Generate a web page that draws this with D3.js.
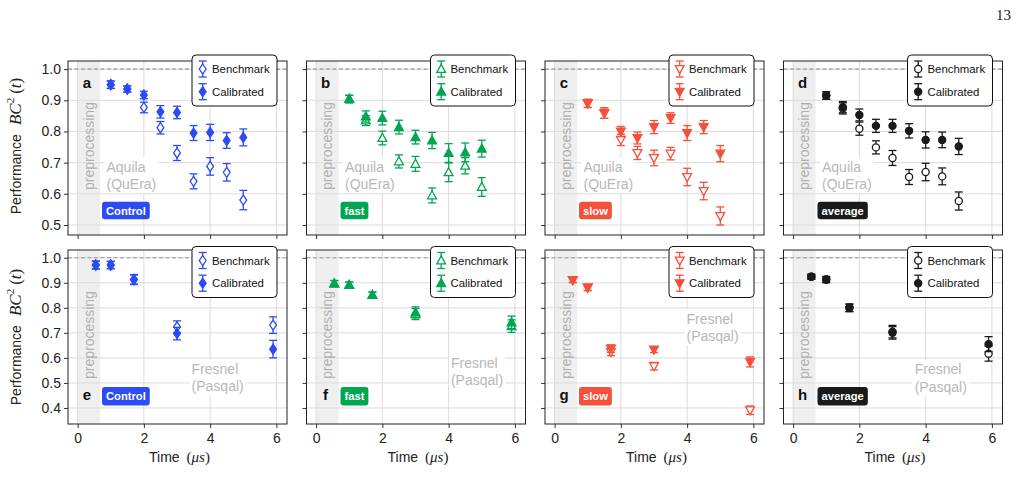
<!DOCTYPE html>
<html>
<head>
<meta charset="utf-8">
<script src="https://cdn.jsdelivr.net/npm/d3@7"></script>
<style>
  body { margin: 0; background: #fff; }
  svg { display: block; }
</style>
</head>
<body>
<svg id="chart" width="1018" height="501"></svg>
<script>
// sample times (microseconds)
var timesAquila = [1.0, 1.5, 2.0, 2.5, 3.0, 3.5, 4.0, 4.5, 5.0];
var timesFresnel = [0.55, 1.0, 1.7, 3.0, 5.9];

// Aquila (QuEra) -- top row
var aquilaControlBench    = [0.950, 0.936, 0.877, 0.812, 0.731, 0.640, 0.688, 0.669, 0.580];
var aquilaControlBenchErr = [0.012, 0.010, 0.017, 0.020, 0.024, 0.024, 0.028, 0.028, 0.031];
var aquilaControlCal      = [0.950, 0.936, 0.917, 0.863, 0.861, 0.795, 0.797, 0.771, 0.781];
var aquilaControlCalErr   = [0.012, 0.010, 0.012, 0.020, 0.020, 0.024, 0.026, 0.025, 0.027];

var aquilaFastBench    = [0.904, 0.835, 0.779, 0.704, 0.696, 0.595, 0.669, 0.690, 0.622];
var aquilaFastBenchErr = [0.012, 0.016, 0.022, 0.021, 0.024, 0.024, 0.030, 0.026, 0.030];
var aquilaFastCal      = [0.904, 0.848, 0.843, 0.814, 0.782, 0.771, 0.731, 0.733, 0.745];
var aquilaFastCalErr   = [0.012, 0.018, 0.022, 0.022, 0.022, 0.026, 0.030, 0.030, 0.027];

var aquilaSlowBench    = [0.890, 0.859, 0.773, 0.731, 0.715, 0.729, 0.654, 0.609, 0.529];
var aquilaSlowBenchErr = [0.013, 0.017, 0.018, 0.021, 0.025, 0.020, 0.028, 0.028, 0.029];
var aquilaSlowCal      = [0.890, 0.859, 0.800, 0.779, 0.814, 0.843, 0.795, 0.814, 0.729];
var aquilaSlowCalErr   = [0.013, 0.017, 0.016, 0.019, 0.021, 0.017, 0.024, 0.021, 0.026];

var aquilaAvgBench    = [0.915, 0.874, 0.809, 0.749, 0.715, 0.654, 0.670, 0.656, 0.577];
var aquilaAvgBenchErr = [0.012, 0.018, 0.021, 0.021, 0.024, 0.024, 0.028, 0.027, 0.029];
var aquilaAvgCal      = [0.915, 0.878, 0.853, 0.818, 0.818, 0.802, 0.773, 0.773, 0.752];
var aquilaAvgCalErr   = [0.012, 0.018, 0.019, 0.021, 0.021, 0.023, 0.026, 0.025, 0.026];

// Fresnel (Pasqal) -- bottom row
var fresnelControlBench    = [0.971, 0.971, 0.913, 0.724, 0.731];
var fresnelControlBenchErr = [0.015, 0.014, 0.018, 0.024, 0.033];
var fresnelControlCal      = [0.971, 0.971, 0.913, 0.697, 0.635];
var fresnelControlCalErr   = [0.016, 0.015, 0.020, 0.025, 0.035];

var fresnelFastBench    = [0.897, 0.891, 0.851, 0.775, 0.727];
var fresnelFastBenchErr = [0.012, 0.012, 0.012, 0.022, 0.025];
var fresnelFastCal      = [0.897, 0.891, 0.851, 0.782, 0.742];
var fresnelFastCalErr   = [0.012, 0.012, 0.012, 0.022, 0.025];

var fresnelSlowBench    = [0.911, 0.881, 0.624, 0.567, 0.391];
var fresnelSlowBenchErr = [0.010, 0.012, 0.015, 0.015, 0.017];
var fresnelSlowCal      = [0.911, 0.881, 0.637, 0.633, 0.584];
var fresnelSlowCalErr   = [0.010, 0.012, 0.015, 0.012, 0.020];

var fresnelAvgBench    = [0.924, 0.913, 0.800, 0.705, 0.617];
var fresnelAvgBenchErr = [0.010, 0.012, 0.015, 0.025, 0.030];
var fresnelAvgCal      = [0.924, 0.913, 0.800, 0.700, 0.655];
var fresnelAvgCalErr   = [0.010, 0.012, 0.015, 0.025, 0.030];

var xTicks = [0, 2, 4, 6];
var yTicksTop = [0.5, 0.6, 0.7, 0.8, 0.9, 1.0];
var yTicksBottom = [0.4, 0.5, 0.6, 0.7, 0.8, 0.9, 1.0];
var seriesNames = ['Benchmark', 'Calibrated'];

var protocols = {
  Control: { label: 'Control', color: '#2b4cf5', shape: 'diamond' },
  fast:    { label: 'fast',    color: '#00a651', shape: 'up' },
  slow:    { label: 'slow',    color: '#f5503a', shape: 'down' },
  average: { label: 'average', color: '#1a1a1a', shape: 'circle' }
};

// ---- layout ----
var font = 'Liberation Sans, Arial, Helvetica, sans-serif';
var serif = 'Liberation Serif, DejaVu Serif, serif';
var colLeft = [68, 306.5, 545, 783.5];
var panelW = 219;
var rowTop = [61, 250];
var panelH = 174;

var x = d3.scaleLinear().domain([-0.29, 6.32]).range([0, panelW]);
var yScales = [
  d3.scaleLinear().domain([0.468, 1.026]).range([panelH, 0]),
  d3.scaleLinear().domain([0.336, 1.031]).range([panelH, 0])
];

var rowStyle = [
  { device: ['Aquila', '(QuEra)'], yTicks: yTicksTop, legendDy: -6, labelAt: 'top', badgeTop: -33.3, badgeH: 17.6 },
  { device: ['Fresnel', '(Pasqal)'], yTicks: yTicksBottom, legendDy: -3.5, labelAt: 'bottom', badgeTop: -37, badgeH: 18.4 }
];

var panels = [
  { id: 'a', row: 0, col: 0, proto: 'Control', times: timesAquila, bench: aquilaControlBench, benchErr: aquilaControlBenchErr, cal: aquilaControlCal, calErr: aquilaControlCalErr },
  { id: 'b', row: 0, col: 1, proto: 'fast', times: timesAquila, bench: aquilaFastBench, benchErr: aquilaFastBenchErr, cal: aquilaFastCal, calErr: aquilaFastCalErr },
  { id: 'c', row: 0, col: 2, proto: 'slow', times: timesAquila, bench: aquilaSlowBench, benchErr: aquilaSlowBenchErr, cal: aquilaSlowCal, calErr: aquilaSlowCalErr },
  { id: 'd', row: 0, col: 3, proto: 'average', times: timesAquila, bench: aquilaAvgBench, benchErr: aquilaAvgBenchErr, cal: aquilaAvgCal, calErr: aquilaAvgCalErr },
  { id: 'e', row: 1, col: 0, proto: 'Control', times: timesFresnel, bench: fresnelControlBench, benchErr: fresnelControlBenchErr, cal: fresnelControlCal, calErr: fresnelControlCalErr, devAt: [3.44, 0.537] },
  { id: 'f', row: 1, col: 1, proto: 'fast', times: timesFresnel, bench: fresnelFastBench, benchErr: fresnelFastBenchErr, cal: fresnelFastCal, calErr: fresnelFastCalErr, devAt: [4.07, 0.561] },
  { id: 'g', row: 1, col: 2, proto: 'slow', times: timesFresnel, bench: fresnelSlowBench, benchErr: fresnelSlowBenchErr, cal: fresnelSlowCal, calErr: fresnelSlowCalErr, devAt: [3.98, 0.737] },
  { id: 'h', row: 1, col: 3, proto: 'average', times: timesFresnel, bench: fresnelAvgBench, benchErr: fresnelAvgBenchErr, cal: fresnelAvgCal, calErr: fresnelAvgCalErr, devAt: [3.67, 0.534] }
];

function markerPath(shape) {
  if (shape === 'diamond') return 'M0,-5L3.4,0L0,5L-3.4,0Z';
  if (shape === 'up') return 'M0,-4.6L4.4,3.4L-4.4,3.4Z';
  if (shape === 'down') return 'M0,4.6L4.4,-3.4L-4.4,-3.4Z';
  return d3.symbol(d3.symbolCircle, 40)();
}

function errorBar(g, cx, y1, y2, color) {
  g.append('line').attr('x1', cx).attr('x2', cx).attr('y1', y1).attr('y2', y2)
    .attr('stroke', color).attr('stroke-width', 1.3);
  [y1, y2].forEach(function (yy) {
    g.append('line').attr('x1', cx - 4).attr('x2', cx + 4).attr('y1', yy).attr('y2', yy)
      .attr('stroke', color).attr('stroke-width', 1.3);
  });
}

function marker(g, cx, cy, p, open) {
  g.append('path')
    .attr('d', markerPath(p.shape))
    .attr('transform', 'translate(' + cx + ',' + cy + ')')
    .attr('fill', open ? '#fff' : p.color)
    .attr('stroke', p.color)
    .attr('stroke-width', 1.3);
}

var svg = d3.select('#chart');

// page number
svg.append('text').attr('x', 1011).attr('y', 20).attr('text-anchor', 'end')
  .attr('font-family', serif).attr('font-size', 15).attr('fill', '#222').text('13');

panels.forEach(function (pn) {
  var rs = rowStyle[pn.row];
  var p = protocols[pn.proto];
  var y = yScales[pn.row];
  var left = colLeft[pn.col], top = rowTop[pn.row];
  var g = svg.append('g').attr('transform', 'translate(' + left + ',' + top + ')');

  // preprocessing band
  g.append('rect').attr('x', x(0)).attr('y', 0).attr('width', x(0.68) - x(0)).attr('height', panelH)
    .attr('fill', '#efefef');

  // grid
  g.selectAll('.gx').data(xTicks).enter().append('line')
    .attr('x1', function (d) { return x(d); }).attr('x2', function (d) { return x(d); })
    .attr('y1', 0).attr('y2', panelH).attr('stroke', '#dcdcdc').attr('stroke-width', 1);
  g.selectAll('.gy').data(rs.yTicks).enter().append('line')
    .attr('x1', 0).attr('x2', panelW)
    .attr('y1', function (d) { return y(d); }).attr('y2', function (d) { return y(d); })
    .attr('stroke', '#dcdcdc').attr('stroke-width', 1);

  // reference line at 1.0
  g.append('line').attr('x1', 0).attr('x2', panelW).attr('y1', y(1)).attr('y2', y(1))
    .attr('stroke', '#999').attr('stroke-width', 1.1).attr('stroke-dasharray', '4,2.5');

  // preprocessing label
  var ppx = (x(0) + x(0.68)) / 2;
  g.append('text')
    .attr('transform', 'translate(' + ppx + ',' + (panelH - 45) + ') rotate(-90)')
    .attr('dy', '0.35em').attr('font-family', font).attr('font-size', 14).attr('fill', '#b0b0b0')
    .text('preprocessing');

  // device text with white box
  var dg = g.append('g');
  var dx0, dy0;
  if (pn.devAt) { dx0 = x(pn.devAt[0]); dy0 = y(pn.devAt[1]); }
  else { dx0 = 38.5; dy0 = panelH - 63.5; }
  var dt = dg.append('text').attr('font-family', font).attr('font-size', 14).attr('fill', '#b8b8b8');
  rs.device.forEach(function (line, i) {
    dt.append('tspan').attr('x', dx0).attr('y', dy0 + i * 17.4).text(line);
  });
  var bb = dt.node().getBBox();
  dg.insert('rect', 'text').attr('x', bb.x - 2).attr('y', bb.y - 1).attr('width', bb.width + 4)
    .attr('height', bb.height + 2).attr('fill', '#fff');

  // axes
  var yAxis = g.append('g').call(d3.axisLeft(y).tickValues(rs.yTicks).tickSize(4).tickPadding(3)
    .tickFormat(pn.col === 0 ? d3.format('.1f') : ''));
  var xAxis = g.append('g').attr('transform', 'translate(0,' + panelH + ')')
    .call(d3.axisBottom(x).tickValues(xTicks).tickSize(4).tickPadding(5)
      .tickFormat(pn.row === 1 ? d3.format('d') : ''));
  [yAxis, xAxis].forEach(function (a) {
    a.select('.domain').remove();
    a.selectAll('line').attr('stroke', '#333');
    a.selectAll('text').attr('font-family', font).attr('font-size', 14).attr('fill', '#222');
  });

  // data: benchmark (open) then calibrated (filled)
  var dataG = g.append('g');
  [[pn.bench, pn.benchErr, true], [pn.cal, pn.calErr, false]].forEach(function (s) {
    pn.times.forEach(function (t, i) {
      errorBar(dataG, x(t), y(s[0][i] - s[1][i]), y(s[0][i] + s[1][i]), p.color);
    });
    pn.times.forEach(function (t, i) {
      marker(dataG, x(t), y(s[0][i]), p, s[2]);
    });
  });

  // frame
  g.append('rect').attr('x', 0).attr('y', 0).attr('width', panelW).attr('height', panelH)
    .attr('fill', 'none').attr('stroke', '#222').attr('stroke-width', 1);

  // panel letter and badge
  var letterY = rs.labelAt === 'top' ? 22 : panelH - 29;
  g.append('text').attr('x', 19).attr('y', letterY).attr('dy', '0.36em').attr('text-anchor', 'middle')
    .attr('font-family', font).attr('font-weight', 'bold').attr('font-size', 15).attr('fill', '#111')
    .text(pn.id);
  var bg = g.append('g');
  var bt = bg.append('text').attr('font-family', font).attr('font-weight', 'bold').attr('font-size', 11.2)
    .attr('fill', '#fff').attr('dy', '0.36em').text(p.label);
  var bw = bt.node().getComputedTextLength() + 8;
  var bx = 34, by = panelH + rs.badgeTop;
  bt.attr('x', bx + bw / 2).attr('y', by + rs.badgeH / 2).attr('text-anchor', 'middle');
  bg.insert('rect', 'text').attr('x', bx).attr('y', by).attr('width', bw).attr('height', rs.badgeH)
    .attr('rx', 3).attr('fill', p.color);

  // legend
  var lg = g.append('g').attr('transform', 'translate(' + (panelW - 95) + ',' + rs.legendDy + ')');
  lg.append('rect').attr('width', 85).attr('height', 51).attr('rx', 4)
    .attr('fill', '#fff').attr('stroke', '#111').attr('stroke-width', 1);
  seriesNames.forEach(function (name, i) {
    var cy = 14 + i * 22.7;
    errorBar(lg, 10.7, cy - 8, cy + 8, p.color);
    marker(lg, 10.7, cy, p, i === 0);
    lg.append('text').attr('x', 20).attr('y', cy).attr('dy', '0.36em')
      .attr('font-family', font).attr('font-size', 11.4).attr('fill', '#111').text(name);
  });

  // x label
  if (pn.row === 1) {
    var xl = g.append('text').attr('x', panelW / 2 + 2).attr('y', panelH + 38).attr('text-anchor', 'middle')
      .attr('font-family', font).attr('font-size', 14).attr('fill', '#222');
    xl.append('tspan').text('Time ');
    xl.append('tspan').attr('font-family', serif).attr('font-size', 15).attr('dx', 3).text('(');
    xl.append('tspan').attr('font-family', serif).attr('font-style', 'italic').attr('font-size', 15).text('μs');
    xl.append('tspan').attr('font-family', serif).attr('font-size', 15).text(')');
  }

  // y label
  if (pn.col === 0) {
    var cyl = pn.row === 0 ? 146 : 337;
    var yl = g.append('text')
      .attr('transform', 'translate(' + (-47) + ',' + (cyl - top) + ') rotate(-90)')
      .attr('text-anchor', 'middle').attr('font-family', font).attr('font-size', 14).attr('fill', '#222');
    yl.append('tspan').text('Performance');
    yl.append('tspan').attr('dx', 9).attr('font-family', serif).attr('font-style', 'italic').attr('font-size', 17).text('BC');
    yl.append('tspan').attr('font-family', serif).attr('font-size', 11).attr('dy', -7).text('2');
    yl.append('tspan').attr('font-family', serif).attr('font-size', 17).attr('dy', 7).attr('dx', 4).text('(');
    yl.append('tspan').attr('font-family', serif).attr('font-style', 'italic').attr('font-size', 17).text('t');
    yl.append('tspan').attr('font-family', serif).attr('font-size', 17).text(')');
  }
});
</script>
</body>
</html>
